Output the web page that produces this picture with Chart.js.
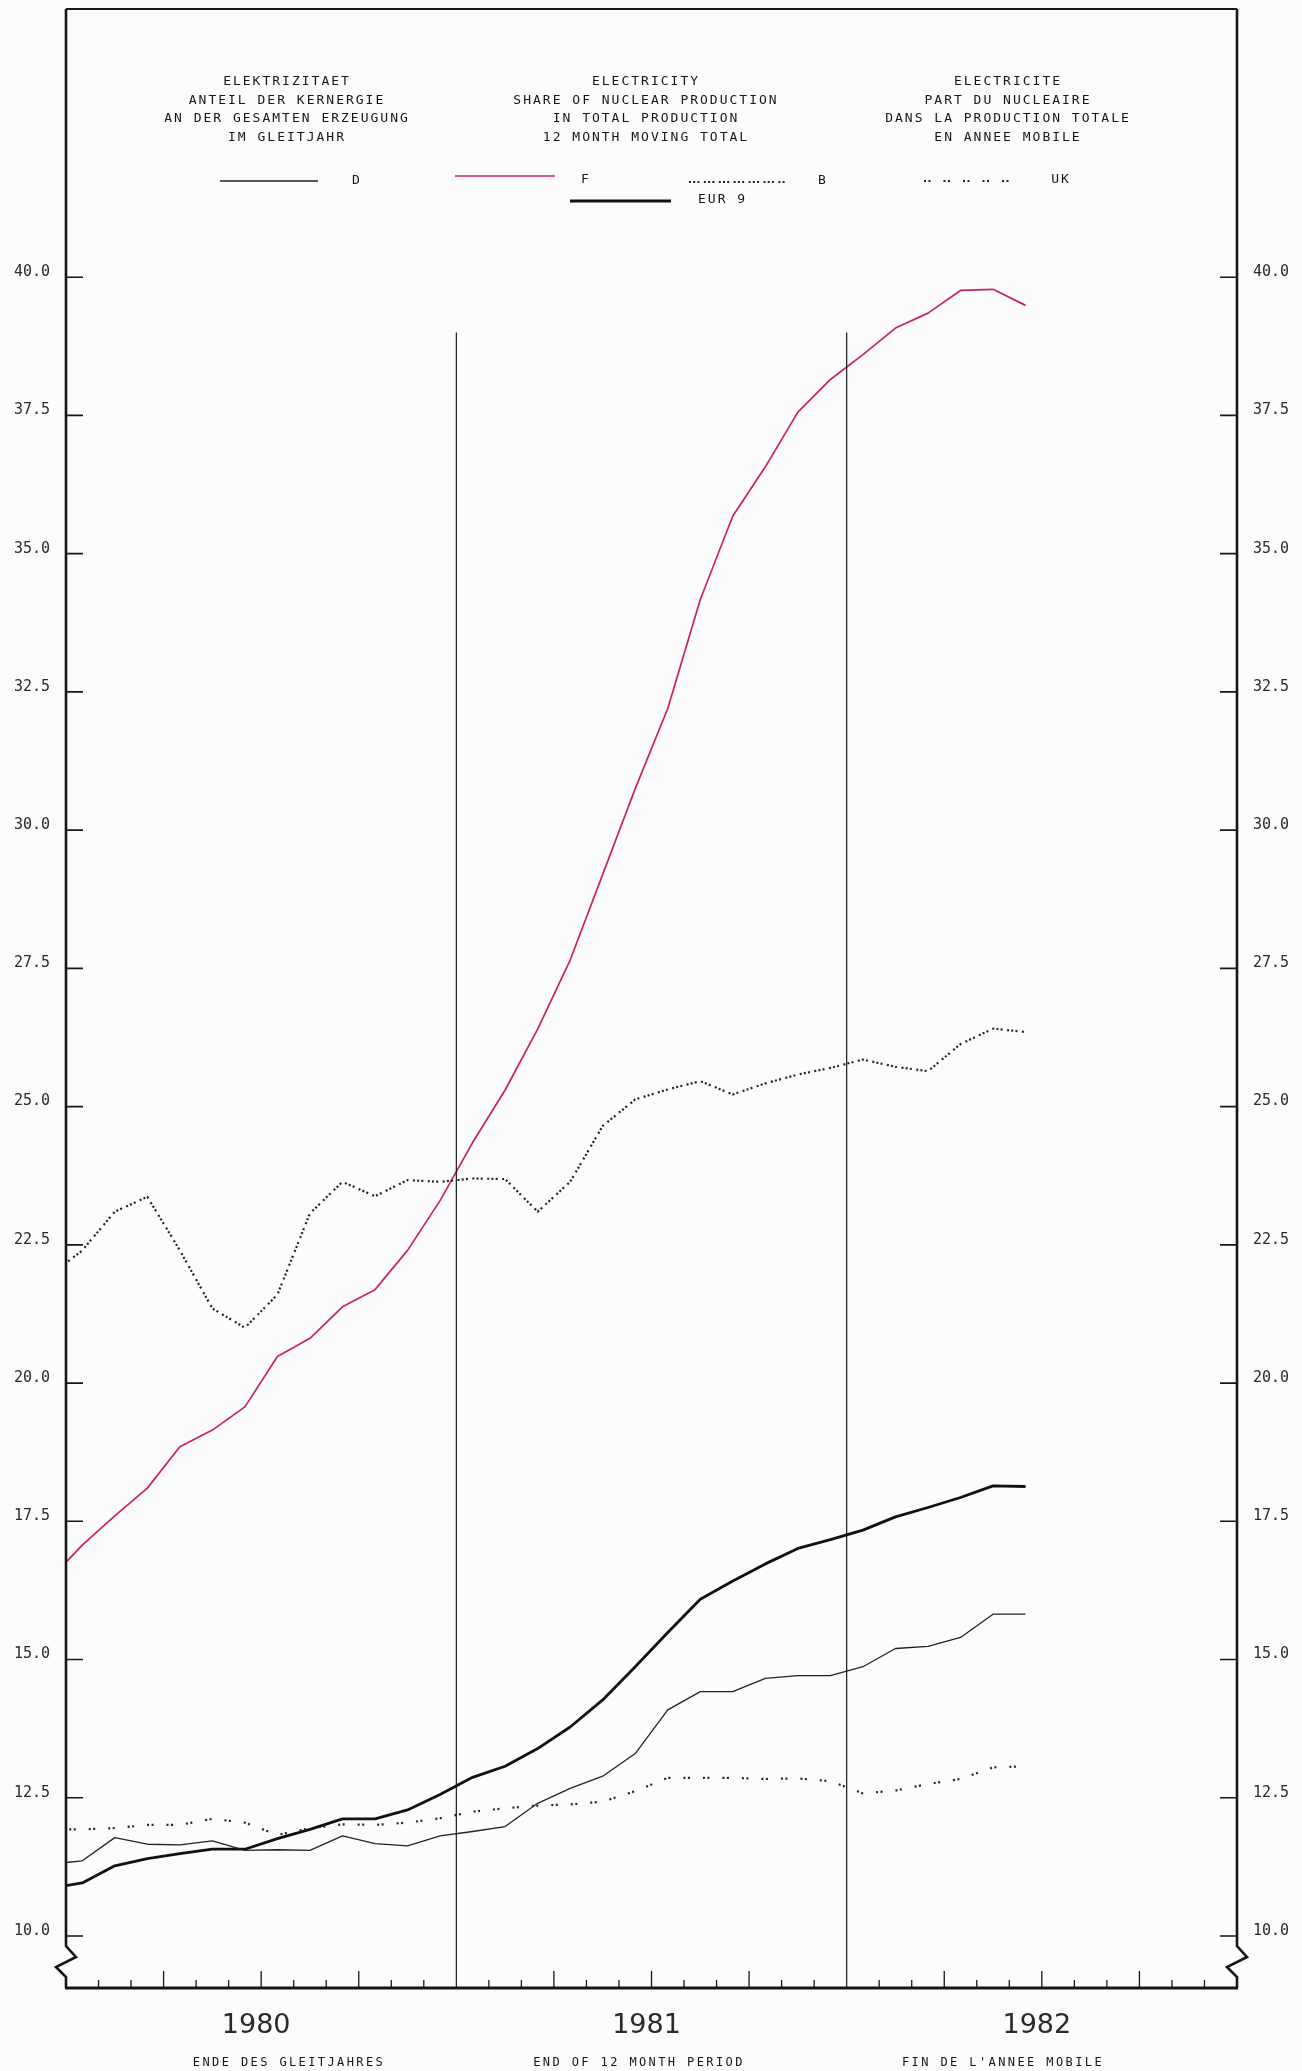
<!DOCTYPE html>
<html>
<head>
<meta charset="utf-8">
<script src="https://cdn.jsdelivr.net/npm/chart.js@4.4.1/dist/chart.umd.min.js"></script>
<style>
  html, body { margin: 0; padding: 0; background: #fcfcfc; }
  #wrap { position: relative; width: 1302px; height: 2071px; }
</style>
</head>
<body>
<div id="wrap"><canvas id="nuclearChart"></canvas></div>
<script>
// end of 12 month period (Dec 1979 point only feeds the segment at the left axis)
const periods = ['1979-12',
  '1980-01', '1980-02', '1980-03', '1980-04', '1980-05', '1980-06',
  '1980-07', '1980-08', '1980-09', '1980-10', '1980-11', '1980-12',
  '1981-01', '1981-02', '1981-03', '1981-04', '1981-05', '1981-06',
  '1981-07', '1981-08', '1981-09', '1981-10', '1981-11', '1981-12',
  '1982-01', '1982-02', '1982-03', '1982-04', '1982-05', '1982-06'];

// share of nuclear in total production, %
const seriesD = [11.30, 11.36, 11.78, 11.66, 11.65, 11.72, 11.55, 11.56, 11.55, 11.81, 11.67, 11.63,
  11.81, 11.89, 11.98, 12.40, 12.67, 12.89, 13.30, 14.09, 14.42, 14.42, 14.66, 14.71,
  14.71, 14.87, 15.20, 15.24, 15.40, 15.82, 15.82];
const seriesF = [16.45, 17.07, 17.60, 18.10, 18.85, 19.15, 19.57, 20.48, 20.81, 21.38, 21.69, 22.40,
  23.30, 24.35, 25.30, 26.40, 27.65, 29.20, 30.75, 32.20, 34.17, 35.68, 36.57, 37.56,
  38.15, 38.60, 39.08, 39.35, 39.76, 39.78, 39.49];
const seriesB = [21.94, 22.40, 23.10, 23.37, 22.40, 21.35, 21.00, 21.60, 23.07, 23.64, 23.38, 23.67,
  23.64, 23.70, 23.69, 23.10, 23.64, 24.65, 25.13, 25.31, 25.46, 25.22, 25.42, 25.58,
  25.70, 25.85, 25.72, 25.64, 26.13, 26.41, 26.35];
const seriesUK = [11.93, 11.93, 11.95, 12.01, 12.01, 12.12, 12.05, 11.83, 11.95, 12.02, 12.01, 12.05,
  12.13, 12.25, 12.31, 12.36, 12.38, 12.43, 12.62, 12.86, 12.86, 12.86, 12.84, 12.85,
  12.80, 12.58, 12.63, 12.75, 12.84, 13.05, 13.07];
const seriesEUR9 = [10.86, 10.96, 11.27, 11.40, 11.49, 11.57, 11.57, 11.76, 11.93, 12.12, 12.12, 12.28,
  12.56, 12.87, 13.07, 13.39, 13.78, 14.27, 14.87, 15.49, 16.09, 16.42, 16.73, 17.01,
  17.17, 17.34, 17.58, 17.75, 17.93, 18.14, 18.13];

const yTicks = [10, 12.5, 15, 17.5, 20, 22.5, 25, 27.5, 30, 32.5, 35, 37.5, 40];
const years = ['1980', '1981', '1982'];
const yearTicks = [6, 18, 30];

const titleDE = ['ELEKTRIZITAET', 'ANTEIL DER KERNERGIE', 'AN DER GESAMTEN ERZEUGUNG', 'IM GLEITJAHR'];
const titleEN = ['ELECTRICITY', 'SHARE OF NUCLEAR PRODUCTION', 'IN TOTAL PRODUCTION', '12 MONTH MOVING TOTAL'];
const titleFR = ['ELECTRICITE', 'PART DU NUCLEAIRE', 'DANS LA PRODUCTION TOTALE', 'EN ANNEE MOBILE'];
const captions = ['ENDE DES GLEITJAHRES', 'END OF 12 MONTH PERIOD', "FIN DE L'ANNEE MOBILE"];

const monoFont = '"DejaVu Sans Mono", "Liberation Mono", monospace';
const ink = '#161616';

// month number from Jan 1980, placed mid-month
function monthPos(p) {
    const [yy, mm] = p.split('-').map(Number);
    return (yy - 1980) * 12 + (mm - 1) + 0.5;
}
function points(values) {
    return periods.map((p, i) => ({ x: monthPos(p), y: values[i] }));
}

const styles = {
    D:    { borderColor: '#222', borderWidth: 1.3 },
    F:    { borderColor: '#cc2452', borderWidth: 1.7 },
    B:    { borderColor: '#222', borderWidth: 2.2, borderDash: [2, 2.2, 2, 2.2, 2, 4.5] },
    UK:   { borderColor: '#222', borderWidth: 2.2, borderDash: [2, 2.5, 2, 13] },
    EUR9: { borderColor: '#111', borderWidth: 2.8 }
};

// axes frame, inward ticks, year separators, titles, legend and captions
const framePlugin = {
    id: 'frame',
    afterDraw(chart) {
        const ctx = chart.ctx;
        const a = chart.chartArea;
        const x = chart.scales.x, y = chart.scales.y;
        ctx.save();
        ctx.strokeStyle = ink;
        ctx.lineCap = 'butt';

        // top line
        ctx.lineWidth = 2;
        ctx.beginPath();
        ctx.moveTo(a.left, a.top);
        ctx.lineTo(a.right, a.top);
        ctx.stroke();

        // side axes with the break mark under 10.0
        const brk = y.getPixelForValue(10) + 10;
        ctx.lineWidth = 2.6;
        [a.left, a.right].forEach(ax => {
            ctx.beginPath();
            ctx.moveTo(ax, a.top);
            ctx.lineTo(ax, brk);
            ctx.lineTo(ax + 10, brk + 11);
            ctx.lineTo(ax - 10, brk + 21);
            ctx.lineTo(ax, brk + 31);
            ctx.lineTo(ax, a.bottom);
            ctx.stroke();
        });

        // bottom axis
        ctx.lineWidth = 3;
        ctx.beginPath();
        ctx.moveTo(a.left - 1, a.bottom);
        ctx.lineTo(a.right + 1, a.bottom);
        ctx.stroke();

        // inward y ticks on both sides
        ctx.lineWidth = 1.6;
        yTicks.forEach(v => {
            const py = y.getPixelForValue(v);
            ctx.beginPath();
            ctx.moveTo(a.left, py); ctx.lineTo(a.left + 17, py);
            ctx.moveTo(a.right, py); ctx.lineTo(a.right - 17, py);
            ctx.stroke();
        });

        // month ticks, longer each quarter
        ctx.lineWidth = 1.3;
        for (let m = 1; m < 36; m++) {
            if (m % 12 === 0) continue;
            const px = x.getPixelForValue(m);
            const len = m % 3 === 0 ? 17 : 8;
            ctx.beginPath();
            ctx.moveTo(px, a.bottom);
            ctx.lineTo(px, a.bottom - len);
            ctx.stroke();
        }

        // year separators
        ctx.lineWidth = 1.2;
        [12, 24].forEach(m => {
            const px = x.getPixelForValue(m);
            ctx.beginPath();
            ctx.moveTo(px, a.bottom);
            ctx.lineTo(px, y.getPixelForValue(39.0));
            ctx.stroke();
        });

        // titles
        ctx.fillStyle = ink;
        ctx.font = '13px ' + monoFont;
        ctx.letterSpacing = '2px';
        ctx.textAlign = 'center';
        ctx.textBaseline = 'middle';
        const cols = [287, 646, 1008];
        [titleDE, titleEN, titleFR].forEach((lines, c) => {
            lines.forEach((t, i) => ctx.fillText(t, cols[c], 82 + i * 18.5));
        });

        // legend
        const legend = [
            { key: 'D', label: 'D', x0: 220, x1: 318, ly: 181, tx: 357, ty: 181, align: 'center' },
            { key: 'F', label: 'F', x0: 455, x1: 555, ly: 176, tx: 586, ty: 180, align: 'center' },
            { key: 'EUR9', label: 'EUR 9', x0: 570, x1: 671, ly: 201, tx: 698, ty: 200, align: 'left' },
            { key: 'B', label: 'B', x0: 689, x1: 786, ly: 182, tx: 823, ty: 181, align: 'center' },
            { key: 'UK', label: 'UK', x0: 924, x1: 1014, ly: 181, tx: 1061, ty: 180, align: 'center' }
        ];
        legend.forEach(l => {
            const s = styles[l.key];
            ctx.save();
            ctx.strokeStyle = s.borderColor;
            ctx.lineWidth = s.borderWidth;
            ctx.setLineDash(s.borderDash || []);
            ctx.beginPath();
            ctx.moveTo(l.x0, l.ly);
            ctx.lineTo(l.x1, l.ly);
            ctx.stroke();
            ctx.restore();
            ctx.textAlign = l.align;
            ctx.fillText(l.label, l.tx, l.ty);
        });

        // captions under the years
        ctx.font = '12px ' + monoFont;
        ctx.letterSpacing = '2.4px';
        ctx.textAlign = 'center';
        const capX = [289, 639, 1003];
        captions.forEach((t, i) => ctx.fillText(t, capX[i], 2063));
        ctx.restore();
    }
};

// keep the tick labels from pushing the plot area around
function noPadding(s) {
    s.paddingTop = 0; s.paddingBottom = 0;
    s.paddingLeft = 0; s.paddingRight = 0;
}

const yScale = (position, width) => ({
    type: 'linear',
    position: position,
    min: 9.06,
    max: 44.85,
    grid: { display: false, drawTicks: false },
    border: { display: false },
    afterFit: s => { s.width = width; noPadding(s); },
    afterBuildTicks: s => { s.ticks = yTicks.map(v => ({ value: v })); },
    ticks: {
        autoSkip: false,
        padding: 16,
        labelOffset: -5,
        color: '#2a2a2a',
        font: { family: monoFont, size: 15 },
        callback: v => v.toFixed(1)
    }
});

new Chart(document.getElementById('nuclearChart'), {
    type: 'line',
    data: {
        datasets: [
            { label: 'D', data: points(seriesD), ...styles.D },
            { label: 'B', data: points(seriesB), ...styles.B },
            { label: 'UK', data: points(seriesUK), ...styles.UK },
            { label: 'EUR 9', data: points(seriesEUR9), ...styles.EUR9 },
            { label: 'F', data: points(seriesF), ...styles.F }
        ]
    },
    options: {
        responsive: true,
        maintainAspectRatio: false,
        animation: false,
        layout: { autoPadding: false, padding: { top: 9, left: 0, right: 0, bottom: 0 } },
        elements: {
            point: { radius: 0 },
            line: { tension: 0, fill: false, borderJoinStyle: 'round' }
        },
        datasets: { line: { clip: 0 } },
        plugins: {
            legend: { display: false },
            tooltip: { enabled: false }
        },
        scales: {
            x: {
                type: 'linear',
                min: 0,
                max: 36,
                grid: { display: false, drawTicks: false },
                border: { display: false },
                afterFit: s => { s.height = 83; noPadding(s); },
                afterBuildTicks: s => { s.ticks = yearTicks.map(v => ({ value: v })); },
                ticks: {
                    autoSkip: false,
                    maxRotation: 0,
                    padding: 22,
                    labelOffset: -5,
                    color: '#2a2a2a',
                    font: { family: '"DejaVu Sans", sans-serif', size: 27 },
                    callback: v => years[yearTicks.indexOf(v)]
                }
            },
            y: yScale('left', 66),
            y2: yScale('right', 65)
        }
    },
    plugins: [framePlugin]
});
</script>
</body>
</html>
